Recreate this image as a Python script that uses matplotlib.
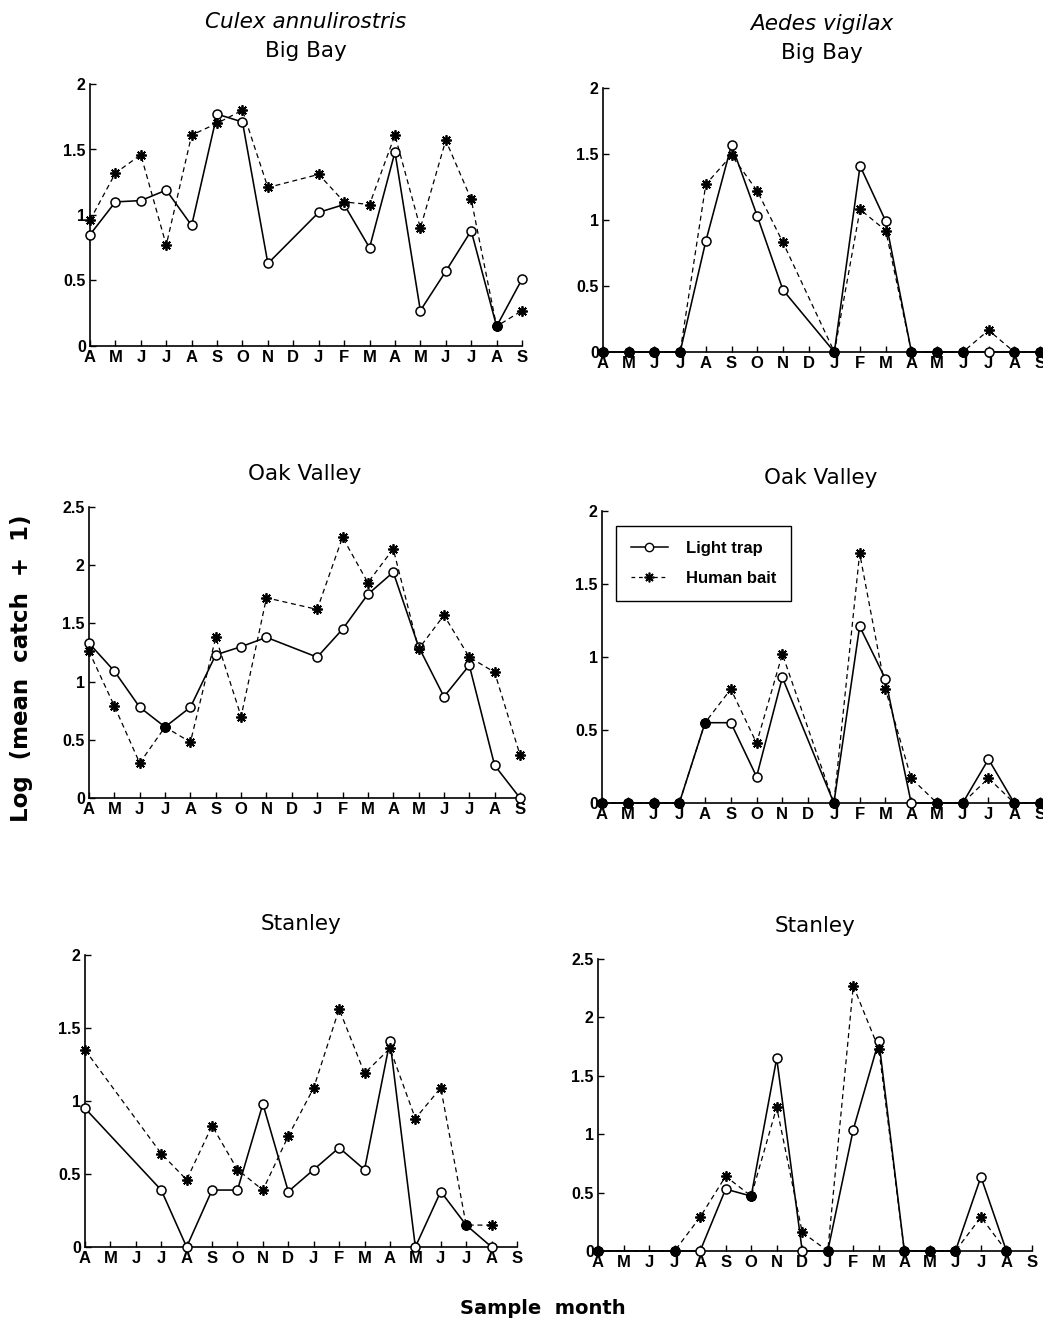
import numpy as np
import matplotlib
matplotlib.use('Agg')
import matplotlib.pyplot as plt
from matplotlib.lines import Line2D

plt.rcParams['font.family'] = ['Liberation Sans', 'DejaVu Sans']

nan = np.nan
months = ['A', 'M', 'J', 'J', 'A', 'S', 'O', 'N', 'D', 'J', 'F', 'M', 'A', 'M', 'J', 'J', 'A', 'S']

# Culex annulirostris
culex_bigbay_light = [0.85, 1.10, 1.11, 1.19, 0.92, 1.77, 1.71, 0.63, nan, 1.02, 1.08, 0.75, 1.48, 0.27, 0.57, 0.88, 0.15, 0.51]
culex_bigbay_bait = [0.96, 1.32, 1.46, 0.77, 1.61, 1.70, 1.80, 1.21, nan, 1.31, 1.10, 1.08, 1.61, 0.90, 1.57, 1.12, 0.15, 0.27]
culex_oak_light = [1.33, 1.09, 0.78, 0.61, 0.78, 1.23, 1.30, 1.38, nan, 1.21, 1.45, 1.75, 1.94, 1.30, 0.87, 1.14, 0.28, 0.0]
culex_oak_bait = [1.26, 0.79, 0.30, 0.61, 0.48, 1.38, 0.70, 1.72, nan, 1.62, 2.24, 1.85, 2.14, 1.28, 1.57, 1.21, 1.08, 0.37]
culex_stanley_light = [0.95, nan, nan, 0.39, 0.0, 0.39, 0.39, 0.98, 0.38, 0.53, 0.68, 0.53, 1.41, 0.0, 0.38, 0.15, 0.0, nan]
culex_stanley_bait = [1.35, nan, nan, 0.64, 0.46, 0.83, 0.53, 0.39, 0.76, 1.09, 1.63, 1.19, 1.36, 0.88, 1.09, 0.15, 0.15, nan]

# Aedes vigilax
aedes_bigbay_light = [0, 0, 0, 0, 0.84, 1.57, 1.03, 0.47, nan, 0, 1.41, 0.99, 0, 0, 0, 0, 0, 0]
aedes_bigbay_bait = [0, 0, 0, 0, 1.27, 1.49, 1.22, 0.83, nan, 0, 1.08, 0.92, 0, 0, 0, 0.165, 0, 0]
aedes_oak_light = [0, 0, 0, 0, 0.55, 0.55, 0.18, 0.86, nan, 0, 1.21, 0.85, 0, 0, 0, 0.30, 0, 0]
aedes_oak_bait = [0, 0, 0, 0, 0.55, 0.78, 0.41, 1.02, nan, 0, 1.71, 0.78, 0.17, 0, 0, 0.17, 0, 0]
aedes_stanley_light = [0, nan, nan, 0, 0, 0.53, 0.47, 1.65, 0, 0, 1.04, 1.80, 0, 0, 0, 0.635, 0, nan]
aedes_stanley_bait = [0, nan, nan, 0, 0.29, 0.64, 0.47, 1.23, 0.16, 0, 2.27, 1.73, 0, 0, 0, 0.29, 0, nan]

W, H = 1043, 1321
fig = plt.figure(figsize=(W / 100, H / 100), dpi=100)


def box(l, r, t, b):
    return [l / W, 1 - b / H, (r - l) / W, (b - t) / H]


STAR = (8, 2, 0)
TITLE_FONT = ['DejaVu Sans']


def panel(rect, light, bait, ymax, title_y, title, species=None, species_y=None):
    ax = fig.add_axes(rect)
    x = np.arange(len(months))
    light = np.array(light, dtype=float)
    bait = np.array(bait, dtype=float)
    ml = ~np.isnan(light)
    mb = ~np.isnan(bait)
    ax.plot(x[ml], light[ml], '-', color='black', lw=1.15, clip_on=False, zorder=2)
    ax.plot(x[mb], bait[mb], '--', color='black', lw=0.9, dashes=(4, 3), clip_on=False, zorder=2)
    ax.plot(x[ml], light[ml], 'o', ms=6.5, mfc='white', mec='black', mew=1.1, clip_on=False, zorder=3)
    ax.plot(x[mb], bait[mb], ls='none', marker=STAR, ms=7.5, mec='black', mew=1.3, clip_on=False, zorder=4)
    both = ml & mb
    same = both.copy()
    same[both] = np.isclose(light[both], bait[both], atol=0.005)
    ax.plot(x[same], light[same], 'o', ms=6.5, mfc='black', mec='black', clip_on=False, zorder=5)

    ax.set_xlim(0, len(months) - 1)
    ax.set_ylim(0, ymax)
    ax.set_xticks(x)
    ax.set_xticklabels(months, fontsize=12, fontweight='bold')
    yt = np.arange(0, ymax + 0.01, 0.5)
    ax.set_yticks(yt)
    ax.set_yticklabels(['%g' % v for v in yt], fontsize=11.5, fontweight='bold')
    ax.tick_params(direction='in', length=4, width=1, pad=3)
    ax.tick_params(axis='x', pad=3)
    for s in ['top', 'right']:
        ax.spines[s].set_visible(False)
    for s in ['left', 'bottom']:
        ax.spines[s].set_linewidth(1.2)
    cx = (rect[0] + rect[2] / 2)
    fig.text(cx, 1 - title_y / H, title, ha='center', va='center', fontsize=15.5, family=TITLE_FONT)
    if species:
        fig.text(cx, 1 - species_y / H, species, ha='center', va='center', fontsize=15.5,
                 style='italic', family=TITLE_FONT)
    return ax


panel(box(90, 522, 84, 346), culex_bigbay_light, culex_bigbay_bait, 2, 51, 'Big Bay',
      'Culex annulirostris', 22)
panel(box(603, 1040, 88, 352), aedes_bigbay_light, aedes_bigbay_bait, 2, 53, 'Big Bay',
      'Aedes vigilax', 24)
panel(box(89, 520, 507, 798), culex_oak_light, culex_oak_bait, 2.5, 474, 'Oak Valley')
ax_leg = panel(box(602, 1040, 511, 803), aedes_oak_light, aedes_oak_bait, 2, 478, 'Oak Valley')
panel(box(85, 517, 955, 1247), culex_stanley_light, culex_stanley_bait, 2, 924, 'Stanley')
panel(box(598, 1032, 959, 1251), aedes_stanley_light, aedes_stanley_bait, 2.5, 926, 'Stanley')

handles = [
    Line2D([], [], color='black', lw=1.1, marker='o', ms=6, mfc='white', mec='black'),
    Line2D([], [], color='black', lw=0.9, ls='--', dashes=(3, 3), marker=STAR, ms=7, mec='black', mew=1.2),
]
leg = ax_leg.legend(handles, ['Light trap', 'Human bait'], loc='upper left',
                    bbox_to_anchor=(0.032, 0.95), fancybox=False, edgecolor='black',
                    framealpha=1, handlelength=2.2, borderpad=0.9, labelspacing=0.9,
                    handletextpad=1.1, borderaxespad=0,
                    prop={'weight': 'bold', 'size': 12})
leg.get_frame().set_linewidth(1.0)

fig.text(22 / W, 1 - 668 / H, 'Log  (mean  catch  +  1)', rotation=90, ha='center', va='center',
         fontsize=16.5, fontweight='bold', family=TITLE_FONT)
fig.text(543 / W, 1 - 1308 / H, 'Sample  month', ha='center', va='center',
         fontsize=14, fontweight='bold', family=TITLE_FONT)

fig.savefig('out.png', dpi=100)
